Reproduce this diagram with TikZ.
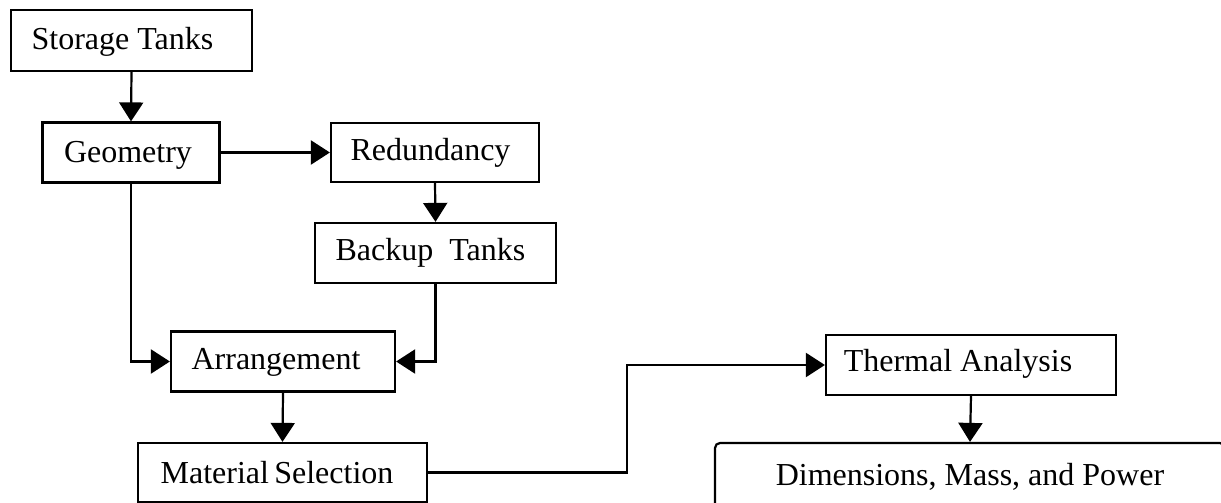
\documentclass[tikz,border=0pt]{standalone}
\usepackage{fontspec}
\setmainfont{Liberation Serif}
\usetikzlibrary{arrows.meta}
% label placed inside its box: #1 = shift to the left, #2 = drop, #3 = text
\newcommand\boxlabel[3]{\raisebox{-#2pt}{#3}\kern#1pt\relax}
\begin{document}
\begin{tikzpicture}[x=0.5pt,y=-0.5pt,
  stagebox/.style={draw,line width=1.1pt,rectangle,inner sep=0pt,
    text height=0.662em,text depth=0pt,
    font=\fontsize{16pt}{19pt}\selectfont},
  flow/.style={line width=1.1pt,-{Triangle[length=9.5pt,width=12pt]}}]
\clip (0,0) rectangle (1221,503);
\fill[white] (0,0) rectangle (1221,503);

% process stages
\node[stagebox,minimum width=241*0.5pt,minimum height=61*0.5pt] (storage) at (131.5,40.5) {\boxlabel{9}{1}{Storage Tanks}};
\node[stagebox,minimum width=177*0.5pt,minimum height=60*0.5pt] (geometry) at (131,152.5) {\boxlabel{3}{1.75}{Geometry}};
\node[stagebox,minimum width=208*0.5pt,minimum height=59*0.5pt] (redundancy) at (435,152.5) {\boxlabel{4.5}{0.75}{Redundancy}};
\node[stagebox,minimum width=241*0.5pt,minimum height=60*0.5pt] (backup) at (435.5,253) {\boxlabel{5}{0.5}{Backup\ \ Tanks}};
\node[stagebox,minimum width=224*0.5pt,minimum height=60*0.5pt] (arrangement) at (283,361.5) {\boxlabel{7}{0.75}{Arrangement}};
\node[stagebox,minimum width=289*0.5pt,minimum height=59*0.5pt] (material) at (282.5,472.5) {\boxlabel{5.5}{2.25}{Material\,Selection}};
\node[stagebox,minimum width=290*0.5pt,minimum height=60*0.5pt] (thermal) at (971,365) {\boxlabel{13}{0}{Thermal Analysis}};
\node[stagebox,rounded corners=2.5pt,minimum width=510*0.5pt,minimum height=72*0.5pt] (dims) at (970,479) {Dimensions, Mass, and Power};

% column used by the connector from material selection to thermal analysis
\coordinate (jog) at (627,0);

% connectors
\draw[flow] (storage.south) -- (geometry.north);
\draw[flow] (geometry.east) -- (redundancy.west);
\draw[flow] (redundancy.south) -- (backup.north);
\draw[flow] (geometry.south) |- (arrangement.west);
\draw[flow] (backup.south) |- (arrangement.east);
\draw[flow] (arrangement.south) -- (material.north);
\draw[flow] (material.east) -- (material.east -| jog) -- (jog |- thermal.west) -- (thermal.west);
\draw[flow] (thermal.south) -- (dims.north);
\end{tikzpicture}
\end{document}
